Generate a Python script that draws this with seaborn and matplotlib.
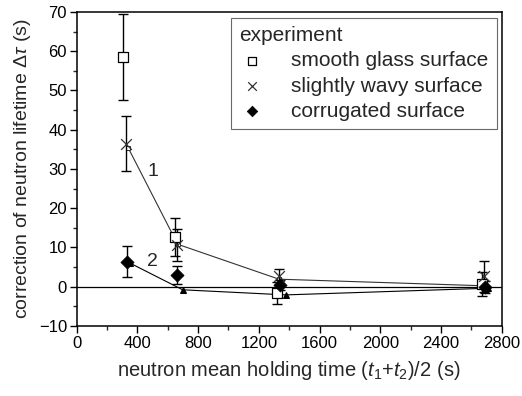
import matplotlib
matplotlib.use("Agg")
import matplotlib.pyplot as plt
import seaborn as sns
import pandas as pd

# data
x_smooth = [303, 648, 1318, 2673]
y_smooth = [58.5, 12.6, -1.6, 0.7]
e_smooth = [11.0, 4.9, 2.7, 3.0]

x_wavy = [323, 659, 1336, 2683]
y_wavy = [36.4, 10.6, 2.6, 2.6]
e_wavy = [7.0, 4.0, 1.8, 4.0]

x_corr = [329, 659, 1339, 2690]
y_corr = [6.4, 3.0, 0.4, 0.0]
e_corr = [4.0, 2.2, 1.2, 1.5]

x_calc1 = [340, 665, 1333, 2700]
y_calc1 = [35.3, 10.8, 1.9, 0.2]
x_calc2 = [351, 698, 1377, 2711]
y_calc2 = [6.0, -0.8, -2.1, -0.4]

sns.set_theme(style="ticks")
plt.rcParams['font.family'] = ['Liberation Sans', 'DejaVu Sans']
plt.rcParams['mathtext.fontset'] = 'custom'
plt.rcParams['mathtext.rm'] = 'Liberation Sans'
plt.rcParams['mathtext.it'] = 'Liberation Sans:italic'

fig = plt.figure(figsize=(5.22, 3.96), dpi=100)
ax = fig.add_axes([0.147, 0.177, 0.814, 0.793])

ax.axhline(0, color='black', lw=0.9, zorder=1)

calc1 = pd.DataFrame({'x': x_calc1, 'y': y_calc1})
calc2 = pd.DataFrame({'x': x_calc2, 'y': y_calc2})
sns.lineplot(data=calc1, x='x', y='y', ax=ax, color='#333333', lw=0.8,
             marker='s', markersize=3, markerfacecolor='white',
             markeredgecolor='#333333', sort=False, zorder=2)
sns.lineplot(data=calc2, x='x', y='y', ax=ax, color='black', lw=0.8,
             marker='^', markersize=4, markerfacecolor='black',
             markeredgecolor='black', sort=False, zorder=2)

ekw = dict(fmt='none', ecolor='black', elinewidth=1.0, capsize=3.5, capthick=1.0, zorder=3)
ax.errorbar(x_smooth, y_smooth, yerr=e_smooth, **ekw)
ax.errorbar(x_wavy, y_wavy, yerr=e_wavy, **ekw)
ax.errorbar(x_corr, y_corr, yerr=e_corr, **ekw)

sns.scatterplot(x=x_smooth, y=y_smooth, ax=ax, marker='s', s=45,
                facecolor='white', edgecolor='black', linewidth=0.9,
                label='smooth glass surface', zorder=4)
sns.scatterplot(x=x_wavy, y=y_wavy, ax=ax, marker='x', s=60,
                color='#333333', linewidth=0.9,
                label='slightly wavy surface', zorder=4)
sns.scatterplot(x=x_corr, y=y_corr, ax=ax, marker='D', s=45,
                color='black', edgecolor='black', linewidth=0.5,
                label='corrugated surface', zorder=5)

ax.text(465, 29.3, '1', fontsize=14, va='center', ha='left')
ax.text(465, 6.3, '2', fontsize=14, va='center', ha='left')

ax.set_xlim(0, 2800)
ax.set_ylim(-10, 70)
ax.set_xticks(range(0, 2801, 400))
ax.set_xticks(range(0, 2801, 200), minor=True)
ax.set_yticks(range(-10, 71, 10))
ax.set_yticks(range(-10, 71, 5), minor=True)
ax.tick_params(axis='both', which='major', direction='out', length=5, width=1,
               labelsize=12, colors='black', pad=2)
ax.tick_params(axis='both', which='minor', direction='out', length=3, width=1)
for s in ax.spines.values():
    s.set_visible(True)
    s.set_linewidth(1.1)
    s.set_color('black')

ax.set_xlabel('neutron mean holding time ($t_1$+$t_2$)/2 (s)', fontsize=14.5, labelpad=6)
ax.set_ylabel('correction of neutron lifetime Δ$\\tau$ (s)', fontsize=14, labelpad=4)

leg = ax.legend(loc='upper right', bbox_to_anchor=(0.989, 0.981), title='experiment',
                fontsize=15, title_fontsize=15, frameon=True, fancybox=False,
                edgecolor='#444444', alignment='left', borderpad=0.4,
                labelspacing=0.3, handletextpad=1.3, handlelength=1.2,
                borderaxespad=0, markerscale=0.8)
leg.get_frame().set_linewidth(0.8)

fig.savefig('out.png', dpi=100)
